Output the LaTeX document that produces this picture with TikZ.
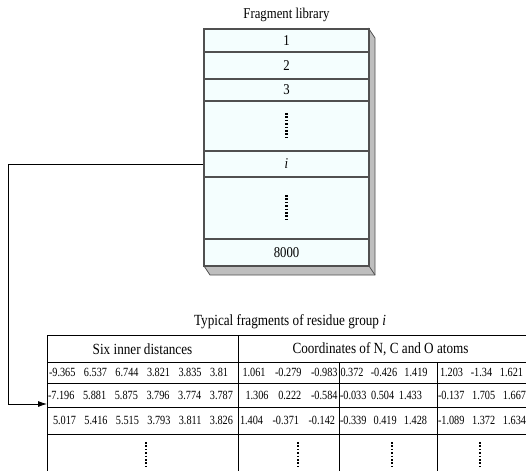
\documentclass[tikz,border=0pt]{standalone}
\usepackage{fontspec}
\setmainfont{Liberation Serif}
\newfontfamily\condfont[FakeStretch=0.85]{Liberation Serif}
\newfontfamily\numfont[FakeStretch=0.82]{Liberation Serif}
\usepackage{xcolor}
\usepackage{tikz}
\usetikzlibrary{arrows.meta,positioning,calc}

\definecolor{libfill}{RGB}{244,254,254}
\definecolor{libline}{RGB}{80,80,80}
\definecolor{libshade}{RGB}{190,190,190}
\newcommand{\spreadrow}[2]{\makebox[#1pt][s]{#2}}

\begin{document}
\begin{tikzpicture}[x=1pt,y=-1pt,
  librow/.style={draw=libline, line width=1.2pt, fill=libfill, minimum width=165pt, inner sep=0pt, font=\condfont\fontsize{15}{17}\selectfont},
  tabline/.style={draw=black, line width=0.8pt},
  numtext/.style={inner sep=0pt, font=\numfont\fontsize{12.5}{14}\selectfont},
  headtext/.style={inner sep=0pt, font=\condfont\fontsize{15.5}{17}\selectfont},
  vdots/.style={line width=2.2pt, dash pattern=on 1.6pt off 1.8pt},
  link/.style={line width=0.8pt, -{Latex[length=9pt,width=6pt]}}]
\useasboundingbox (0,0) rectangle (526,470);
\clip (0,0) rectangle (526,470);

% Fragment library (box with shadow)
\node[font=\condfont\fontsize{15}{17}\selectfont] (libtitle) at (286.5,15) {Fragment library};
\fill[libshade, draw=libline, line width=0.8pt] (369,29) -- (375,38) -- (375,275) -- (210,275) -- (204,266) -- (369,266) -- cycle;
\draw[libline, line width=0.8pt] (369,266) -- (375,275);
\foreach \nm/\ya/\yb/\txt in {r1/29/52/1, r2/52/79/2, r3/79/101/3, rd1/101/151/, ri/151/177/\textit{i}, rd2/177/239/, r8000/239/266/8000}
  \node[librow, minimum height={(\yb-\ya)*1pt}] (\nm) at (286.5,{(\ya+\yb)/2}) {\txt};
\draw[vdots] ($(rd1.center)+(0,-13)$) -- ($(rd1.center)+(0,13)$);
\draw[vdots] ($(rd2.center)+(0,-13)$) -- ($(rd2.center)+(0,13)$);

% Table of typical fragments
\node[headtext] (tabtitle) at (290,322) {Typical fragments of residue group \textit{i}};
\draw[tabline] (47,335) rectangle (540,480);
\draw[tabline] (47,362) -- (540,362) (47,383) -- (540,383) (47,407) -- (540,407) (47,434) -- (540,434);
\draw[tabline] (238,335) -- (238,480) (339,362) -- (339,480) (437,362) -- (437,480);
\node[headtext] (hdist) at (142.5,349) {Six inner distances};
\node[headtext] (hcoord) at (380.5,349) {Coordinates of N, C and O atoms};

% rows of numbers
\node[numtext] (d1) at (138.5,372.5) {\spreadrow{179}{-9.365 6.537 6.744 3.821 3.835 3.81}};
\node[numtext] (d2) at (140.5,395) {\spreadrow{185}{-7.196 5.881 5.875 3.796 3.774 3.787}};
\node[numtext] (d3) at (143,420.5) {\spreadrow{180}{5.017 5.416 5.515 3.793 3.811 3.826}};
\node[numtext] (n1) at (290,372.5) {\spreadrow{95}{1.061 -0.279 -0.983}};
\node[numtext] (o1) at (384,372.5) {\spreadrow{87}{0.372 -0.426 1.419}};
\node[numtext] (c1) at (481.5,372.5) {\spreadrow{83}{1.203 -1.34 1.621}};
\node[numtext] (n2) at (291.5,395) {\spreadrow{92}{1.306 0.222 -0.584}};
\node[numtext] (o2) at (381,395) {\spreadrow{82}{-0.033 0.504 1.433}};
\node[numtext] (c2) at (482,395) {\spreadrow{88}{-0.137 1.705 1.667}};
\node[numtext] (n3) at (287.5,420.5) {\spreadrow{95}{1.404 -0.371 -0.142}};
\node[numtext] (o3) at (383.5,420.5) {\spreadrow{87}{-0.339 0.419 1.428}};
\node[numtext] (c3) at (482,420.5) {\spreadrow{88}{-1.089 1.372 1.634}};

% vertical dots in the last row
\foreach \xd in {146,298,392,480}
  \draw[vdots] (\xd,442) -- (\xd,467);

% link from row i to the table
\coordinate (turn) at (8,404);
\coordinate (arrowtip) at (47,404);
\draw[link] (ri.west) -| (turn) -- (arrowtip);
\end{tikzpicture}
\end{document}
